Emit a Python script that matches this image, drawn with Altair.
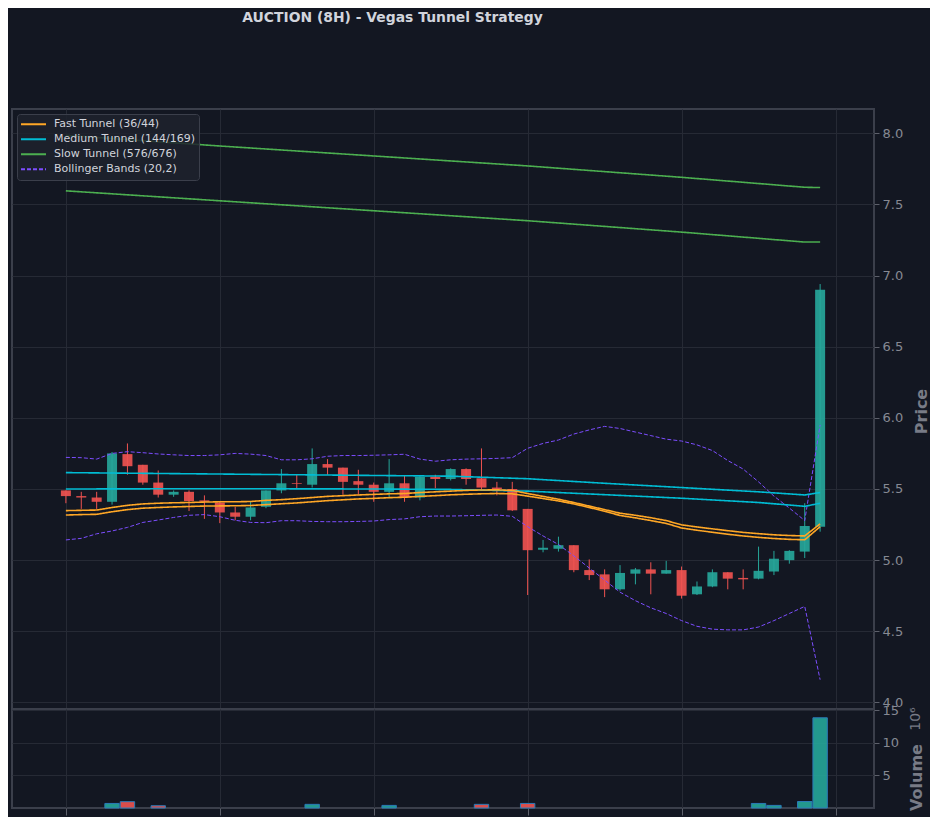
import altair as alt
import pandas as pd

# ---------------- data ----------------
idx = list(range(50))
opens = [5.49, 5.45, 5.44, 5.41, 5.745, 5.67, 5.545, 5.46, 5.48, 5.42,
         5.405, 5.335, 5.305, 5.375, 5.49, 5.54, 5.53, 5.675, 5.65, 5.555,
         5.53, 5.48, 5.54, 5.44, 5.585, 5.57, 5.64, 5.575, 5.51, 5.50,
         5.36, 5.073, 5.08, 5.105, 4.93, 4.90, 4.795, 4.905, 4.935, 4.905,
         4.93, 4.76, 4.815, 4.915, 4.875, 4.87, 4.92, 5.00, 5.06, 5.235]
highs = [5.49, 5.48, 5.48, 5.76, 5.82, 5.67, 5.63, 5.49, 5.49, 5.455,
         5.41, 5.375, 5.415, 5.49, 5.64, 5.60, 5.785, 5.71, 5.65, 5.635,
         5.545, 5.71, 5.595, 5.59, 5.60, 5.645, 5.645, 5.785, 5.55, 5.55,
         5.36, 5.142, 5.165, 5.105, 5.005, 4.935, 4.965, 4.945, 4.985, 4.995,
         4.955, 4.85, 4.935, 4.915, 4.935, 5.095, 5.065, 5.07, 5.40, 6.94]
lows = [5.40, 5.36, 5.36, 5.39, 5.60, 5.53, 5.44, 5.445, 5.345, 5.29,
        5.26, 5.28, 5.28, 5.365, 5.47, 5.505, 5.51, 5.60, 5.46, 5.46,
        5.41, 5.445, 5.41, 5.42, 5.505, 5.56, 5.53, 5.49, 5.455, 5.345,
        4.755, 5.055, 5.06, 4.915, 4.86, 4.74, 4.785, 4.83, 4.76, 4.905,
        4.73, 4.755, 4.81, 4.795, 4.795, 4.865, 4.895, 4.975, 5.015, 5.20]
closes = [5.45, 5.44, 5.41, 5.75, 5.66, 5.545, 5.46, 5.48, 5.415, 5.41,
          5.335, 5.305, 5.37, 5.49, 5.54, 5.535, 5.675, 5.65, 5.55, 5.53,
          5.48, 5.54, 5.44, 5.585, 5.57, 5.64, 5.57, 5.51, 5.50, 5.35,
          5.07, 5.087, 5.105, 4.93, 4.895, 4.795, 4.91, 4.935, 4.905, 4.93,
          4.75, 4.815, 4.915, 4.87, 4.865, 4.925, 5.01, 5.065, 5.24, 6.90]
volumes = [0.0, 0.0, 0.0, 0.70, 0.97, 0.0, 0.35, 0.0, 0.0, 0.0,
           0.0, 0.0, 0.0, 0.0, 0.0, 0.0, 0.56, 0.0, 0.0, 0.0,
           0.0, 0.40, 0.0, 0.0, 0.0, 0.0, 0.0, 0.56, 0.0, 0.0,
           0.70, 0.0, 0.0, 0.0, 0.0, 0.0, 0.0, 0.0, 0.0, 0.0,
           0.0, 0.0, 0.0, 0.0, 0.0, 0.70, 0.40, 0.0, 1.00, 13.85]

fast_a = [5.348, 5.35, 5.352, 5.37, 5.385, 5.395, 5.40, 5.403, 5.405, 5.408,
          5.41, 5.41, 5.412, 5.42, 5.425, 5.432, 5.44, 5.448, 5.453, 5.458,
          5.462, 5.466, 5.468, 5.475, 5.48, 5.485, 5.49, 5.493, 5.494, 5.49,
          5.468, 5.448, 5.428, 5.405, 5.38, 5.355, 5.33, 5.315, 5.298, 5.278,
          5.248, 5.233, 5.22, 5.207, 5.195, 5.186, 5.178, 5.173, 5.17, 5.255]
fast_b = [5.317, 5.32, 5.322, 5.34, 5.355, 5.365, 5.37, 5.374, 5.377, 5.38,
          5.381, 5.382, 5.384, 5.39, 5.396, 5.402, 5.41, 5.418, 5.424, 5.43,
          5.434, 5.439, 5.442, 5.448, 5.453, 5.459, 5.463, 5.466, 5.468, 5.466,
          5.45, 5.433, 5.416, 5.395, 5.37, 5.343, 5.314, 5.297, 5.278, 5.258,
          5.226, 5.21, 5.196, 5.182, 5.17, 5.16, 5.152, 5.146, 5.143, 5.235]
bb_upper = [5.722, 5.72, 5.71, 5.75, 5.762, 5.755, 5.746, 5.74, 5.735, 5.735,
            5.74, 5.75, 5.745, 5.735, 5.705, 5.705, 5.712, 5.73, 5.735, 5.735,
            5.737, 5.74, 5.744, 5.71, 5.695, 5.705, 5.71, 5.712, 5.715, 5.72,
            5.786, 5.82, 5.844, 5.886, 5.915, 5.94, 5.925, 5.90, 5.875, 5.85,
            5.837, 5.81, 5.77, 5.70, 5.64, 5.55, 5.45, 5.366, 5.278, 5.95]
bb_lower = [5.142, 5.153, 5.185, 5.205, 5.23, 5.265, 5.282, 5.30, 5.315, 5.32,
            5.305, 5.28, 5.265, 5.263, 5.277, 5.277, 5.272, 5.27, 5.27, 5.272,
            5.275, 5.285, 5.29, 5.305, 5.31, 5.31, 5.312, 5.315, 5.317, 5.308,
            5.235, 5.17, 5.11, 5.03, 4.945, 4.86, 4.775, 4.715, 4.665, 4.625,
            4.575, 4.535, 4.515, 4.51, 4.51, 4.53, 4.575, 4.625, 4.675, 4.16]
med_idx = [0, 10, 20, 25, 30, 35, 40, 45, 48, 49]
med_a = [5.615, 5.605, 5.595, 5.59, 5.572, 5.54, 5.51, 5.48, 5.458, 5.475]
med_b = [5.50, 5.502, 5.50, 5.497, 5.485, 5.46, 5.435, 5.405, 5.378, 5.40]
slow_idx = [0, 10, 20, 30, 40, 48, 49]
slow_a = [7.985, 7.91, 7.84, 7.77, 7.69, 7.62, 7.618]
slow_b = [7.595, 7.525, 7.455, 7.385, 7.305, 7.235, 7.235]

series_names = ["Fast Tunnel (36/44)", "Medium Tunnel (144/169)",
                "Slow Tunnel (576/676)", "Bollinger Bands (20,2)"]
series_colors = ["#ffa726", "#00bcd4", "#4caf50", "#7c4dff"]
series_dash = [[1, 0], [1, 0], [1, 0], [4, 2]]
x_ticks = [0, 10, 20, 30, 40, 50]
price_ticks = [4.0, 4.5, 5.0, 5.5, 6.0, 6.5, 7.0, 7.5, 8.0]
vol_ticks = [5, 10, 15]
title_text = "AUCTION (8H) - Vegas Tunnel Strategy"

# ---------------- tables ----------------
cdf = pd.DataFrame({"i": idx, "open": opens, "high": highs, "low": lows,
                    "close": closes, "vol": volumes})

rows = []
def add(name, line, xs, ys):
    for x, y in zip(xs, ys):
        rows.append({"i": x, "value": y, "series": name, "line": line})

add(series_names[3], "bbu", idx, bb_upper)
add(series_names[3], "bbl", idx, bb_lower)
add(series_names[2], "sa", slow_idx, slow_a)
add(series_names[2], "sb", slow_idx, slow_b)
add(series_names[1], "ma", med_idx, med_a)
add(series_names[1], "mb", med_idx, med_b)
add(series_names[0], "fa", idx, fast_a)
add(series_names[0], "fb", idx, fast_b)
ldf = pd.DataFrame(rows)

GREEN = "#26a69a"
RED = "#ef5350"
FONT = "DejaVu Sans"
GRID = "#262a35"
LABEL = "#868993"
TITLEC = "#787b86"

xscale = alt.Scale(domain=[-3.5, 52.5], nice=False, zero=False, padding=0)
yscale = alt.Scale(domain=[3.954, 8.170], nice=False, zero=False)

x_price = alt.X("i:Q", scale=xscale,
                axis=alt.Axis(values=x_ticks, labels=False, ticks=False,
                              domain=False, grid=True, title=None))
y_axis_price = alt.Axis(orient="right", values=price_ticks, format=".1f",
                        title="Price", titleAngle=270, titleX=47, titleY=302,
                        titleAlign="center", titleBaseline="middle",
                        titleFontSize=16, titleFontWeight="bold",
                        titleColor=TITLEC, grid=True, domain=False,
                        tickSize=5, labelPadding=3)

color_cond = alt.condition("datum.close >= datum.open",
                           alt.value(GREEN), alt.value(RED))

wicks = alt.Chart(cdf).mark_rule(strokeWidth=1).encode(
    x=x_price,
    y=alt.Y("low:Q", scale=yscale, axis=y_axis_price),
    y2="high:Q",
    color=color_cond,
)
bodies = alt.Chart(cdf).mark_bar(size=10, opacity=0.92).encode(
    x=x_price,
    y=alt.Y("open:Q", scale=yscale, axis=y_axis_price),
    y2="close:Q",
    color=color_cond,
)
legend_kw = dict(title=None, orient="top-left", offset=5,
                 fillColor="rgba(30,34,45,0.85)", strokeColor="#3b3f4b",
                 cornerRadius=3, padding=3, labelColor="#d1d4dc",
                 labelFontSize=11, labelFont=FONT, symbolType="stroke",
                 symbolStrokeWidth=2, symbolSize=625, clipHeight=14.6,
                 rowPadding=0, labelOffset=7)
lines = alt.Chart(ldf).mark_line().encode(
    x=x_price,
    y=alt.Y("value:Q", scale=yscale, axis=y_axis_price),
    color=alt.Color("series:N",
                    scale=alt.Scale(domain=series_names, range=series_colors),
                    legend=alt.Legend(**legend_kw)),
    strokeDash=alt.StrokeDash("series:N",
                              scale=alt.Scale(domain=series_names, range=series_dash),
                              legend=alt.Legend(**legend_kw)),
    strokeWidth=alt.condition("datum.series == 'Bollinger Bands (20,2)'",
                              alt.value(1.0), alt.value(1.6)),
    detail="line:N",
)
price = alt.layer(wicks, bodies, lines).properties(width=862, height=600)

x_vol = alt.X("i:Q", scale=xscale,
              axis=alt.Axis(values=x_ticks, labels=False, ticks=True, tickSize=7,
                            domain=False, grid=True, title=None))
vol_bars = alt.Chart(cdf).transform_filter("datum.vol > 0").mark_bar(
    size=14.4, stroke="#2a7ab8", strokeWidth=1, fillOpacity=0.9).encode(
    x=x_vol,
    y=alt.Y("vol:Q", scale=alt.Scale(domain=[0, 15.2], nice=False),
            axis=alt.Axis(orient="right", values=vol_ticks, title="Volume",
                          titleAngle=270, titleX=42, titleY=68,
                          titleAlign="center", titleBaseline="middle",
                          titleFontSize=16, titleFontWeight="bold",
                          titleColor=TITLEC, grid=True, domain=False,
                          tickSize=5, labelPadding=3)),
    color=color_cond,
)
exp_text = alt.Chart(pd.DataFrame({"t": ["10⁶"]})).mark_text(
    angle=270, fontSize=14, font=FONT, color=TITLEC, align="center",
    baseline="middle").encode(text="t:N", x=alt.value(904), y=alt.value(10))
volume = alt.layer(vol_bars, exp_text).properties(width=862, height=99)

chart = alt.vconcat(price, volume, spacing=0, bounds="flush").properties(
    background="#131722",
    padding={"left": 3, "top": 3, "right": 0, "bottom": 0},
    title=alt.TitleParams(title_text, fontSize=13.9, fontWeight="bold",
                          color="#d1d4dc", font=FONT, anchor="middle",
                          dx=-78, offset=83),
).configure_view(
    stroke="#3b3f4b", strokeWidth=2
).configure_axis(
    gridColor=GRID, gridWidth=1, labelColor=LABEL, labelFontSize=13,
    labelFont=FONT, titleFont=FONT, tickColor="#5d606b"
).configure_concat(spacing=0)

chart.save("out.html", embed_options={"renderer": "svg", "actions": False})
